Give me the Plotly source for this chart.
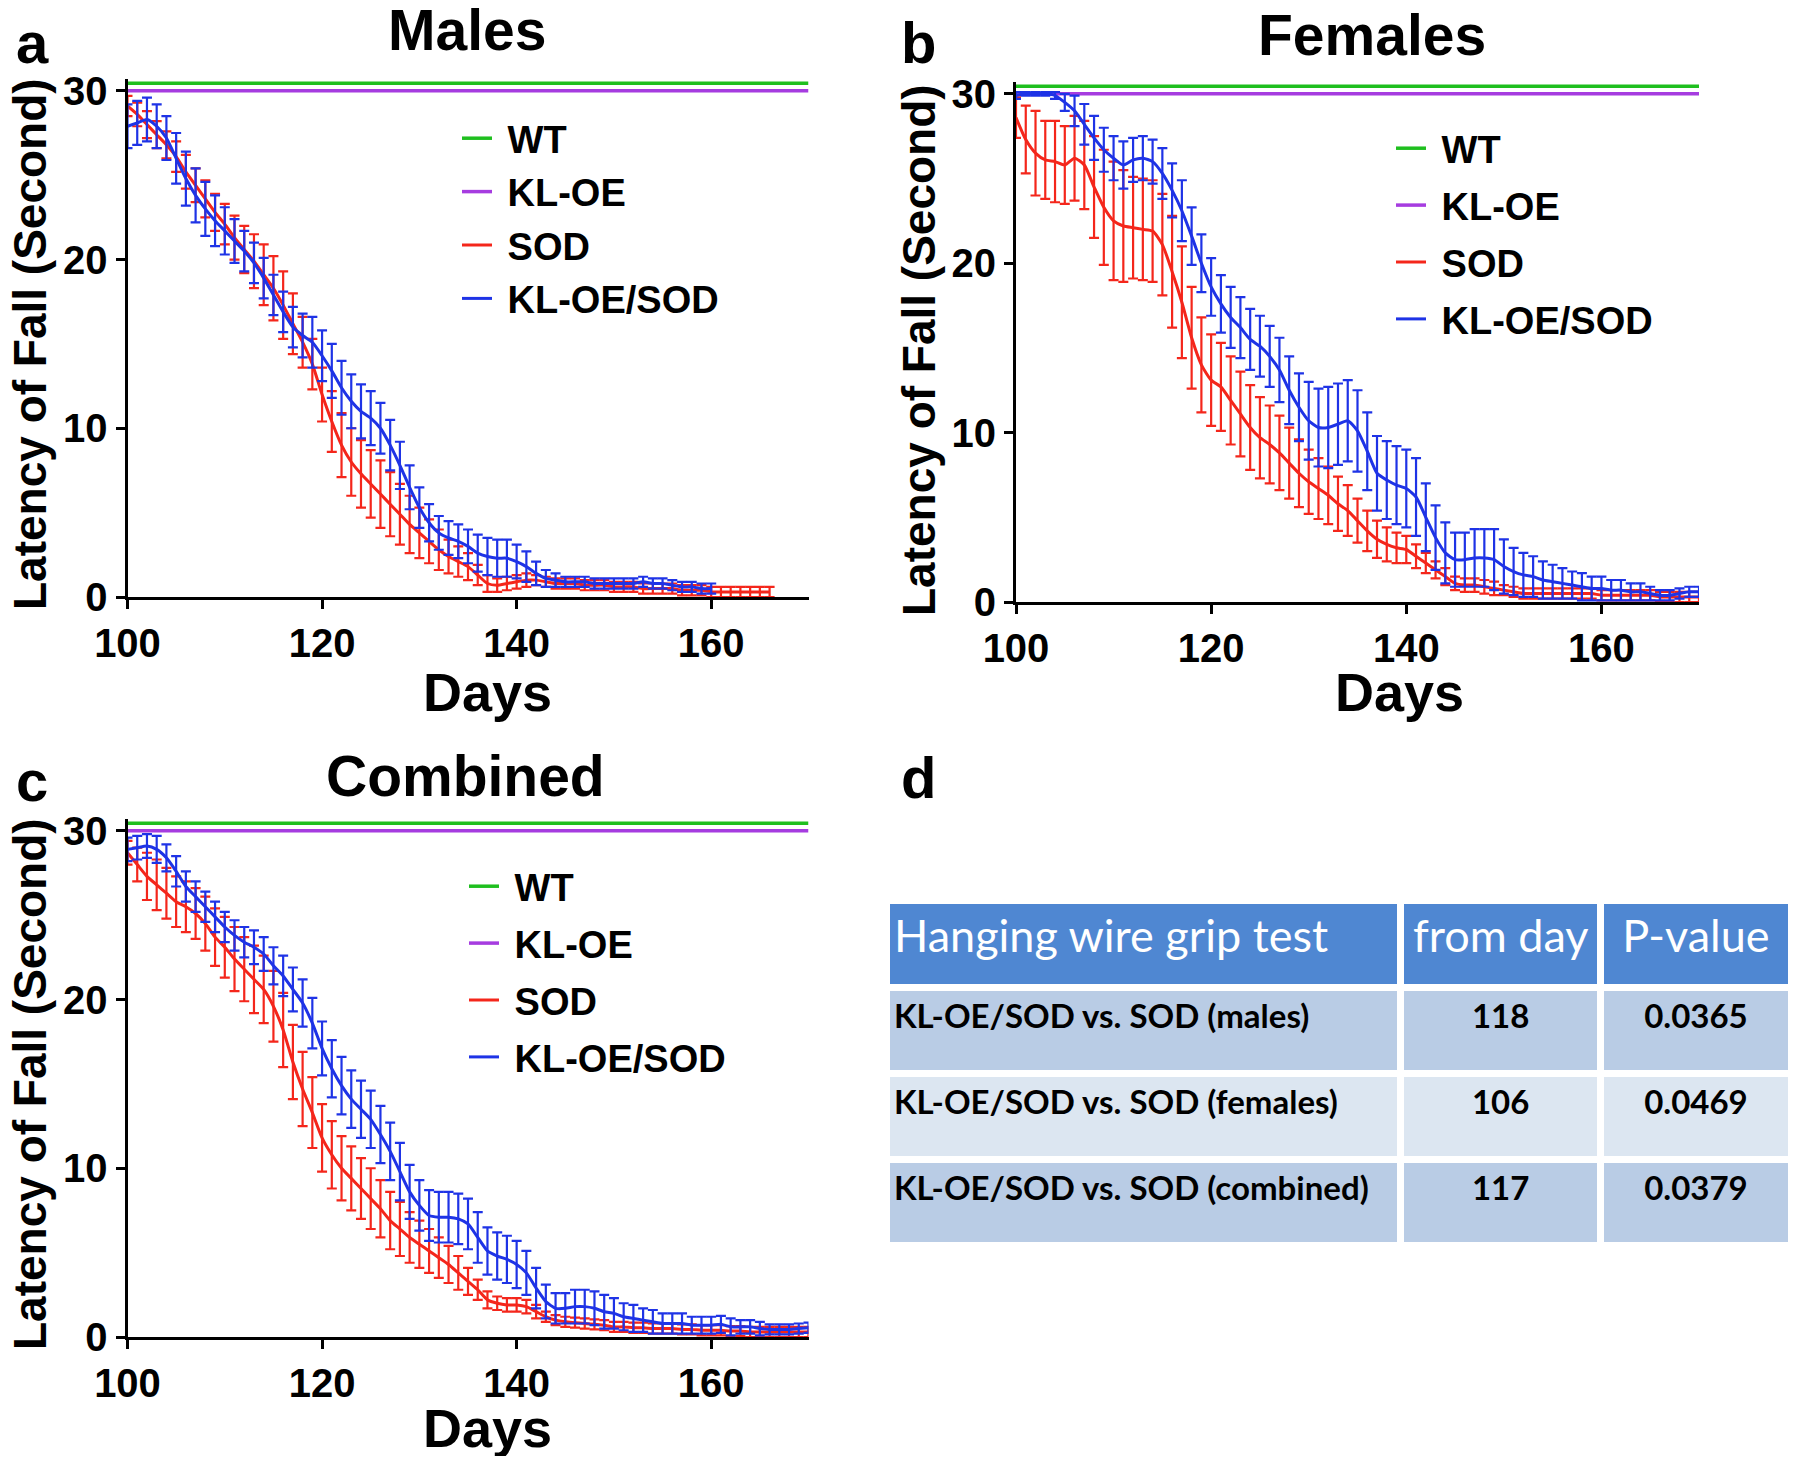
import plotly.graph_objects as go

# ---------------- data ----------------
days_m_sod = list(range(100, 167))
m_sod = [29.1, 28.6, 28.0, 27.4, 26.8, 26.1, 25.2, 24.4, 23.6, 22.8,
         22.1, 21.3, 20.6, 19.9, 19.1, 18.3, 17.3, 16.2, 15.1, 13.8,
         12.0, 10.4, 9.0, 8.0, 7.3, 6.7, 6.1, 5.5, 4.9, 4.3,
         3.8, 3.3, 2.8, 2.4, 2.1, 1.8, 1.3, 0.8, 0.7, 0.8,
         0.9, 1.0, 1.0, 0.9, 0.8, 0.8, 0.8, 0.7, 0.7, 0.7,
         0.6, 0.6, 0.6, 0.5, 0.5, 0.5, 0.5, 0.4, 0.4, 0.4,
         0.3, 0.3, 0.3, 0.3, 0.3, 0.3, 0.3]
m_sod_err = [0.6, 0.7, 0.8, 0.8, 0.8, 0.9, 1.0, 1.0, 1.1, 1.1,
             1.2, 1.3, 1.4, 1.6, 1.8, 1.9, 2.0, 1.8, 1.5, 1.5,
             1.6, 1.8, 1.9, 2.0, 2.0, 2.0, 2.0, 1.9, 1.8, 1.7,
             1.5, 1.3, 1.2, 1.0, 0.9, 0.8, 0.6, 0.5, 0.4, 0.4,
             0.4, 0.4, 0.3, 0.3, 0.3, 0.3, 0.3, 0.3, 0.3, 0.3,
             0.3, 0.3, 0.3, 0.3, 0.3, 0.3, 0.3, 0.3, 0.3, 0.3,
             0.3, 0.3, 0.3, 0.3, 0.3, 0.3, 0.3]
days_m_kl = list(range(100, 161))
m_kl = [27.9, 28.1, 28.3, 27.9, 27.2, 26.0, 24.8, 23.8, 23.0, 22.3,
        21.7, 21.1, 20.5, 19.8, 18.9, 17.9, 16.9, 16.0, 15.5, 15.1,
        14.3, 13.4, 12.4, 11.6, 11.0, 10.6, 10.0, 9.0, 7.8, 6.5,
        5.3, 4.4, 3.8, 3.5, 3.3, 3.0, 2.6, 2.4, 2.3, 2.3,
        2.1, 1.8, 1.4, 1.1, 1.0, 0.9, 0.9, 0.9, 0.8, 0.8,
        0.8, 0.8, 0.8, 0.9, 0.8, 0.8, 0.7, 0.6, 0.6, 0.5, 0.5]
m_kl_err = [1.3, 1.3, 1.3, 1.3, 1.3, 1.5, 1.6, 1.6, 1.6, 1.5,
            1.4, 1.3, 1.2, 1.2, 1.2, 1.2, 1.2, 1.2, 1.3, 1.5,
            1.5, 1.6, 1.6, 1.6, 1.6, 1.6, 1.5, 1.5, 1.4, 1.3,
            1.2, 1.1, 1.0, 1.0, 1.0, 1.0, 1.1, 1.1, 1.1, 1.1,
            1.0, 0.9, 0.7, 0.5, 0.4, 0.3, 0.3, 0.3, 0.3, 0.3,
            0.3, 0.3, 0.3, 0.3, 0.3, 0.3, 0.3, 0.3, 0.3, 0.3, 0.3]

days_f = list(range(100, 171))
f_sod = [28.6, 27.3, 26.5, 26.1, 26.0, 25.8, 26.2, 25.8, 24.5, 23.3,
         22.5, 22.2, 22.1, 22.0, 21.9, 21.1, 19.5, 17.7, 15.6, 14.0,
         13.1, 12.7, 11.9, 11.1, 10.3, 9.7, 9.3, 8.8, 8.2, 7.6,
         7.1, 6.7, 6.3, 5.8, 5.4, 4.8, 4.2, 3.7, 3.4, 3.2,
         3.1, 2.7, 2.3, 1.9, 1.5, 1.1, 1.0, 1.0, 0.9, 0.8,
         0.7, 0.6, 0.5, 0.5, 0.5, 0.5, 0.5, 0.5, 0.5, 0.5,
         0.4, 0.4, 0.4, 0.4, 0.4, 0.4, 0.3, 0.3, 0.3, 0.3, 0.3]
f_sod_err = [1.2, 2.0, 2.5, 2.3, 2.4, 2.3, 2.5, 2.6, 3.0, 3.4,
             3.5, 3.3, 3.0, 3.0, 3.0, 3.0, 3.3, 3.3, 3.0, 2.8,
             2.7, 2.6, 2.6, 2.5, 2.5, 2.4, 2.3, 2.2, 2.1, 2.0,
             1.9, 1.8, 1.7, 1.6, 1.5, 1.3, 1.2, 1.1, 1.0, 0.9,
             0.8, 0.7, 0.6, 0.5, 0.5, 0.4, 0.4, 0.4, 0.4, 0.4,
             0.3, 0.3, 0.3, 0.3, 0.3, 0.3, 0.3, 0.3, 0.3, 0.3,
             0.3, 0.3, 0.3, 0.3, 0.3, 0.3, 0.3, 0.3, 0.3, 0.3, 0.3]
f_kl = [29.9, 30.0, 30.0, 30.0, 29.9, 29.5, 29.0, 28.2, 27.4, 26.7,
        26.2, 25.8, 26.1, 26.2, 26.0, 25.3, 24.3, 23.1, 21.6, 20.0,
        18.6, 17.6, 16.8, 16.2, 15.5, 15.1, 14.5, 13.7, 12.5, 11.5,
        10.7, 10.3, 10.3, 10.5, 10.7, 10.1, 8.9, 7.6, 7.2, 6.9,
        6.7, 6.2, 5.0, 3.8, 2.9, 2.5, 2.5, 2.6, 2.6, 2.5,
        2.1, 1.8, 1.6, 1.5, 1.3, 1.2, 1.1, 1.0, 0.9, 0.8,
        0.8, 0.7, 0.7, 0.6, 0.6, 0.5, 0.4, 0.4, 0.5, 0.6, 0.6]
f_kl_err = [0.2, 0.1, 0.1, 0.1, 0.2, 0.5, 0.9, 1.2, 1.3, 1.3,
            1.3, 1.4, 1.3, 1.3, 1.3, 1.5, 1.6, 1.8, 1.7, 1.7,
            1.7, 1.7, 1.8, 1.8, 1.8, 1.8, 1.8, 1.9, 2.0, 2.0,
            2.3, 2.3, 2.4, 2.4, 2.4, 2.4, 2.3, 2.2, 2.3, 2.3,
            2.3, 2.3, 2.0, 1.9, 1.8, 1.6, 1.6, 1.7, 1.7, 1.8,
            1.6, 1.4, 1.3, 1.2, 1.1, 1.0, 0.9, 0.8, 0.8, 0.7,
            0.7, 0.6, 0.6, 0.5, 0.5, 0.4, 0.3, 0.3, 0.3, 0.3, 0.3]

days_c = list(range(100, 171))
c_sod = [28.7, 28.0, 27.3, 26.8, 26.3, 25.8, 25.5, 25.1, 24.5, 23.7,
         23.1, 22.4, 21.8, 21.2, 20.6, 19.6, 18.2, 16.3, 14.7, 13.3,
         11.8, 10.8, 10.0, 9.4, 8.8, 8.2, 7.6, 6.9, 6.4, 5.9,
         5.5, 5.1, 4.7, 4.3, 3.8, 3.3, 2.8, 2.2, 2.0, 1.9,
         1.9, 1.8, 1.5, 1.2, 1.0, 0.9, 0.85, 0.8, 0.75, 0.7,
         0.6, 0.6, 0.55, 0.55, 0.5, 0.5, 0.5, 0.45, 0.45, 0.4,
         0.4, 0.4, 0.35, 0.35, 0.3, 0.3, 0.3, 0.3, 0.3, 0.3, 0.3]
c_sod_err = [0.7, 1.0, 1.4, 1.5, 1.5, 1.5, 1.5, 1.5, 1.6, 1.7,
             1.8, 1.9, 1.9, 2.0, 2.0, 2.1, 2.2, 2.2, 2.2, 2.1,
             2.0, 2.0, 1.9, 1.9, 1.8, 1.8, 1.7, 1.7, 1.6, 1.5,
             1.4, 1.3, 1.2, 1.1, 1.0, 0.8, 0.6, 0.5, 0.4, 0.4,
             0.4, 0.4, 0.4, 0.3, 0.3, 0.3, 0.3, 0.3, 0.3, 0.3,
             0.3, 0.3, 0.3, 0.3, 0.3, 0.3, 0.3, 0.3, 0.3, 0.3,
             0.3, 0.3, 0.3, 0.3, 0.3, 0.3, 0.3, 0.3, 0.3, 0.3, 0.3]
c_kl = [28.9, 29.0, 29.1, 28.9, 28.4, 27.6, 26.7, 26.1, 25.5, 24.9,
        24.3, 23.8, 23.4, 23.1, 22.7, 22.0, 21.4, 20.6, 19.8, 18.6,
        17.1, 15.9, 14.9, 14.1, 13.5, 12.9, 12.0, 11.0, 9.8, 8.6,
        7.8, 7.2, 7.1, 7.1, 7.0, 6.7, 5.9, 5.1, 4.8, 4.6,
        4.3, 3.8, 2.9, 2.1, 1.7, 1.7, 1.8, 1.8, 1.7, 1.5,
        1.4, 1.2, 1.1, 1.0, 0.9, 0.8, 0.8, 0.8, 0.7, 0.7,
        0.7, 0.75, 0.6, 0.6, 0.6, 0.5, 0.45, 0.45, 0.45, 0.5, 0.55]
c_kl_err = [0.7, 0.7, 0.7, 0.8, 0.8, 0.9, 0.9, 0.9, 0.9, 0.9,
            0.9, 0.9, 0.9, 1.0, 1.0, 1.1, 1.2, 1.3, 1.4, 1.5,
            1.6, 1.7, 1.7, 1.7, 1.7, 1.7, 1.7, 1.7, 1.7, 1.6,
            1.5, 1.5, 1.5, 1.5, 1.5, 1.5, 1.5, 1.4, 1.4, 1.4,
            1.4, 1.3, 1.2, 1.0, 0.9, 0.9, 1.0, 1.0, 1.0, 1.0,
            0.9, 0.8, 0.8, 0.7, 0.7, 0.6, 0.6, 0.6, 0.5, 0.5,
            0.5, 0.5, 0.5, 0.4, 0.4, 0.4, 0.3, 0.3, 0.3, 0.3, 0.3]

ref_days = [100, 170]
wt_vals = [30.45, 30.45]
kloe_vals = [30.0, 30.0]

series_names = ["WT", "KL-OE", "SOD", "KL-OE/SOD"]
panel_titles = ["Males", "Females", "Combined"]
panel_letters = ["a", "b", "c", "d"]
x_ticks = [100, 120, 140, 160]
y_ticks = [0, 10, 20, 30]

table_header = ["Hanging wire grip test", "from day", "P-value"]
table_comparison = ["KL-OE/SOD vs. SOD (males)", "KL-OE/SOD vs. SOD (females)",
                    "KL-OE/SOD vs. SOD (combined)"]
table_from_day = ["118", "106", "117"]
table_pvalue = ["0.0365", "0.0469", "0.0379"]

# ---------------- styles ----------------
FONT = "Liberation Sans, Arial, sans-serif"
TFONT = "Lato, Open Sans, sans-serif"
C_WT, C_KLOE, C_SOD, C_KLSOD = "#1FBF1F", "#A63CE0", "#F4261B", "#1E33E6"
OFF = 8                      # page body margin of the browser
W, H = 1800 - 2 * OFF, 1464 - 2 * OFF
NB = "\u00a0"


def px(x):
    return (x - OFF) / W


def py(y):
    return 1 - (y - OFF) / H


fig = go.Figure()

panels = [
    dict(ax="", leg="legend", data=[(days_m_sod, m_sod, m_sod_err), (days_m_kl, m_kl, m_kl_err)]),
    dict(ax="2", leg="legend2", data=[(days_f, f_sod, f_sod_err), (days_f, f_kl, f_kl_err)]),
    dict(ax="3", leg="legend3", data=[(days_c, c_sod, c_sod_err), (days_c, c_kl, c_kl_err)]),
]

for p in panels:
    xa, ya = "x" + p["ax"], "y" + p["ax"]
    fig.add_trace(go.Scatter(x=ref_days, y=wt_vals, mode="lines", name=NB + series_names[0],
                             line=dict(color=C_WT, width=3.5), xaxis=xa, yaxis=ya,
                             legend=p["leg"], legendgroup=p["leg"] + "wt"))
    fig.add_trace(go.Scatter(x=ref_days, y=kloe_vals, mode="lines", name=NB + series_names[1],
                             line=dict(color=C_KLOE, width=3.5), xaxis=xa, yaxis=ya,
                             legend=p["leg"], legendgroup=p["leg"] + "kloe"))
    (dx, sy, se), (dx2, ky, ke) = p["data"]
    fig.add_trace(go.Scatter(x=dx, y=sy, mode="lines", name=NB + series_names[2],
                             line=dict(color=C_SOD, width=3, shape="spline", smoothing=0.6),
                             error_y=dict(type="data", array=se, visible=True, color=C_SOD,
                                          thickness=2.2, width=5),
                             xaxis=xa, yaxis=ya, legend=p["leg"], legendgroup=p["leg"] + "sod"))
    fig.add_trace(go.Scatter(x=dx2, y=ky, mode="lines", name=NB + series_names[3],
                             line=dict(color=C_KLSOD, width=3, shape="spline", smoothing=0.6),
                             error_y=dict(type="data", array=ke, visible=True, color=C_KLSOD,
                                          thickness=2.2, width=5),
                             xaxis=xa, yaxis=ya, legend=p["leg"], legendgroup=p["leg"] + "klsod"))


def vcenter(texts, size):
    # push the text down one (small) line so that it sits in the middle of the cell
    return ["<br><span style='font-size:%dpx'>%s</span>" % (size, t) for t in texts]


fig.add_trace(go.Table(
    domain=dict(x=[px(886), px(1792)], y=[py(1262), py(900)]),
    columnwidth=[506, 197, 187],
    header=dict(values=vcenter(table_header, 45),
                fill_color="#4F87D2",
                line=dict(color="white", width=7),
                align=["left", "center", "center"],
                height=87,
                font=dict(family=TFONT, size=22, color="white")),
    cells=dict(values=[vcenter(table_comparison, 33), vcenter(table_from_day, 33),
                       vcenter(table_pvalue, 33)],
               fill_color=[["#B9CCE5", "#DCE6F1", "#B9CCE5"]] * 3,
               line=dict(color="white", width=7),
               align=["left", "center", "center"],
               height=86,
               font=dict(family=TFONT, size=21, color="black", weight="bold")),
))

axis_common = dict(showgrid=False, zeroline=False, showline=True, linecolor="black", linewidth=3,
                   ticks="outside", tickcolor="black", tickwidth=3, ticklen=9, automargin=False,
                   tickfont=dict(family=FONT, size=40, color="black", weight="bold"))

dom = {
    "": dict(x=[px(127.5), px(808.5)], y=[py(597), py(79)]),
    "2": dict(x=[px(1016), px(1699)], y=[py(602), py(82)]),
    "3": dict(x=[px(127.5), px(808.5)], y=[py(1337), py(819)]),
}
layout_axes = {}
for k, d in dom.items():
    layout_axes["xaxis" + k] = dict(axis_common, domain=d["x"], range=[100, 170], tickvals=x_ticks,
                                    anchor="y" + k)
    layout_axes["yaxis" + k] = dict(axis_common, domain=d["y"], range=[0, 30.7], tickvals=y_ticks,
                                    anchor="x" + k)

legend_common = dict(font=dict(family=FONT, size=38, color="black", weight="bold"),
                     bgcolor="rgba(0,0,0,0)", xanchor="left", yanchor="top",
                     itemwidth=30, tracegroupgap=1)

fig.update_layout(
    width=W, height=H, margin=dict(l=0, r=0, t=0, b=0, autoexpand=False),
    paper_bgcolor="white", plot_bgcolor="white",
    showlegend=True,
    legend=dict(legend_common, x=px(457), y=py(107)),
    legend2=dict(legend_common, x=px(1391), y=py(117), tracegroupgap=4.5),
    legend3=dict(legend_common, x=px(464), y=py(855), tracegroupgap=4.5),
    **layout_axes,
)

ann = []


def add_text(txt, x, y, size, angle=0):
    ann.append(dict(text=txt, x=px(x), y=py(y), xref="paper", yref="paper", showarrow=False,
                    xanchor="center", yanchor="middle", textangle=angle,
                    font=dict(family=FONT, size=size, color="black", weight="bold")))


add_text(panel_titles[0], 467, 30, 57)
add_text(panel_titles[1], 1372, 35, 57)
add_text(panel_titles[2], 465, 776, 57)
add_text(panel_letters[0], 32, 42, 58)
add_text(panel_letters[1], 918, 42, 58)
add_text(panel_letters[2], 32, 780, 58)
add_text(panel_letters[3], 918, 777, 58)
add_text("Latency of Fall (Second)", 30, 344, 46, -90)
add_text("Latency of Fall (Second)", 919, 350, 46, -90)
add_text("Latency of Fall (Second)", 30, 1084, 46, -90)
add_text("Days", 487, 692, 54)
add_text("Days", 1399, 692, 54)
add_text("Days", 487, 1428, 54)
fig.update_layout(annotations=ann)

fig.write_html("out.html")
